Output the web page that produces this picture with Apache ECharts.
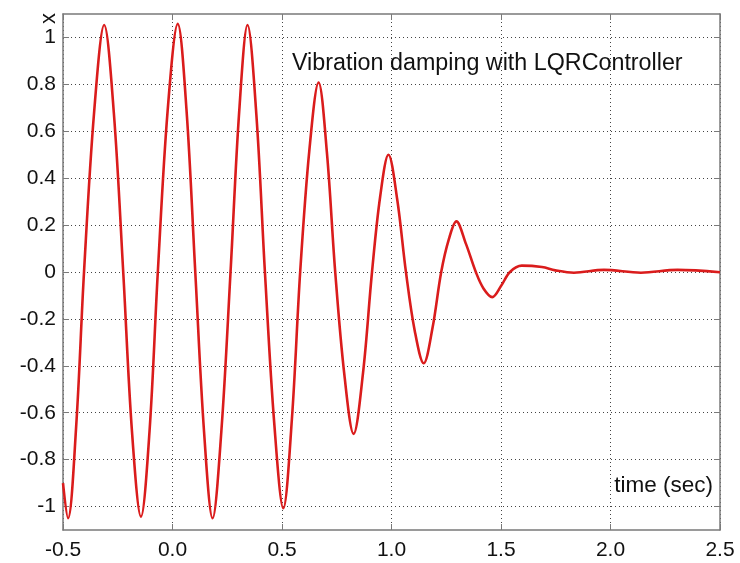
<!DOCTYPE html>
<html>
<head>
<meta charset="utf-8">
<title>Vibration damping with LQRController</title>
<script src="https://cdn.jsdelivr.net/npm/echarts@6/dist/echarts.min.js"></script>
<style>
  html, body { margin: 0; padding: 0; background: #fff; }
  #chart { width: 740px; height: 563px; }
</style>
</head>
<body>
<div id="chart"></div>
<script>
  // readings taken off the reference plot (time in sec, displacement x)
  const timeValues = [
    -0.5, -0.477, -0.44, -0.404, -0.358, -0.312, -0.268, -0.225, -0.185, -0.144,
    -0.105, -0.067, -0.022, 0.024, 0.064, 0.104, 0.144, 0.183, 0.223, 0.265,
    0.305, 0.3425, 0.383, 0.422, 0.465, 0.506, 0.545, 0.583, 0.625, 0.667,
    0.705, 0.743, 0.785, 0.827, 0.87, 0.911, 0.948, 0.986, 1.026, 1.066,
    1.106, 1.147, 1.187, 1.227, 1.262, 1.296, 1.34, 1.385, 1.42, 1.46,
    1.5, 1.541, 1.595, 1.687, 1.748, 1.833, 1.97, 2.139, 2.306, 2.5,
  ];
  const xValues = [
    -0.9, -1.05, -0.66, 0, 0.68, 1.053, 0.68, 0, -0.68, -1.043,
    -0.68, 0, 0.69, 1.058, 0.69, 0, -0.68, -1.05, -0.68, 0,
    0.69, 1.053, 0.67, 0, -0.65, -1.007, -0.63, 0, 0.52, 0.808,
    0.51, 0, -0.44, -0.69, -0.43, 0, 0.32, 0.5, 0.31, 0,
    -0.25, -0.389, -0.24, 0, 0.14, 0.216, 0.12, 0, -0.07, -0.107,
    -0.06, 0, 0.027, 0.021, 0.007, -0.003, 0.009, -0.003, 0.009, -0.001,
  ];
  const xTicks = [-0.5, 0, 0.5, 1, 1.5, 2, 2.5];
  const yTicks = [-1, -0.8, -0.6, -0.4, -0.2, 0, 0.2, 0.4, 0.6, 0.8, 1];

  const chartTitle = 'Vibration damping with LQRController';
  const timeLabel = 'time (sec)';
  const valueLabel = 'x';

  const font = "'Liberation Sans', Arial, Helvetica, sans-serif";
  const boxColor = '#7a7a7a';
  const gridLine = { color: '#444', width: 1, type: [1, 3] };

  const points = timeValues.map((t, i) => [t, xValues[i]]);

  const chart = echarts.init(document.getElementById('chart'), null, { renderer: 'canvas' });

  const tickStyle = { show: true, inside: true, length: 6, lineStyle: { color: boxColor, width: 1 } };

  chart.setOption({
    animation: false,
    backgroundColor: '#fff',
    title: [
      {
        text: chartTitle,
        left: 287,
        top: 47,
        textStyle: { fontFamily: font, fontSize: 23.3, fontWeight: 'normal', color: '#111' },
      },
      {
        text: timeLabel,
        right: 22,
        top: 469,
        textStyle: { fontFamily: font, fontSize: 22.5, fontWeight: 'normal', color: '#111' },
      },
    ],
    graphic: [
      {
        type: 'text',
        left: 38,
        top: 13,
        rotation: Math.PI / 2,
        style: { text: valueLabel, font: '22px ' + font, fill: '#111' },
      },
    ],
    grid: { left: 63, right: 20, top: 14, bottom: 33, show: false },
    xAxis: [
      {
        type: 'value',
        min: -0.5,
        max: 2.5,
        interval: 0.5,
        axisLine: { show: true, onZero: false, lineStyle: { color: boxColor, width: 1.5 } },
        axisTick: tickStyle,
        axisLabel: {
          margin: 10,
          fontFamily: font,
          fontSize: 21,
          color: '#111',
          customValues: xTicks,
          formatter: (v) => v.toFixed(1),
        },
        splitLine: { show: true, lineStyle: gridLine },
      },
      {
        type: 'value',
        position: 'top',
        min: -0.5,
        max: 2.5,
        interval: 0.5,
        axisLine: { show: true, onZero: false, lineStyle: { color: boxColor, width: 1.5 } },
        axisTick: tickStyle,
        axisLabel: { show: false },
        splitLine: { show: false },
      },
    ],
    yAxis: [
      {
        type: 'value',
        min: -1.1,
        max: 1.1,
        axisLine: { show: true, onZero: false, lineStyle: { color: boxColor, width: 1.5 } },
        axisTick: Object.assign({ customValues: yTicks }, tickStyle),
        axisLabel: {
          margin: 7,
          fontFamily: font,
          fontSize: 21,
          color: '#111',
          customValues: yTicks,
          formatter: (v) => String(v),
        },
        splitLine: { show: true, lineStyle: gridLine },
      },
      {
        type: 'value',
        position: 'right',
        min: -1.1,
        max: 1.1,
        axisLine: { show: true, onZero: false, lineStyle: { color: boxColor, width: 1.5 } },
        axisTick: Object.assign({ customValues: yTicks }, tickStyle),
        axisLabel: { show: false, customValues: yTicks },
        splitLine: { show: false },
      },
    ],
    series: [
      {
        type: 'line',
        data: points,
        xAxisIndex: 0,
        yAxisIndex: 0,
        smooth: 0.35,
        showSymbol: false,
        lineStyle: { color: '#da1c1c', width: 2.6 },
      },
    ],
  });
</script>
</body>
</html>
